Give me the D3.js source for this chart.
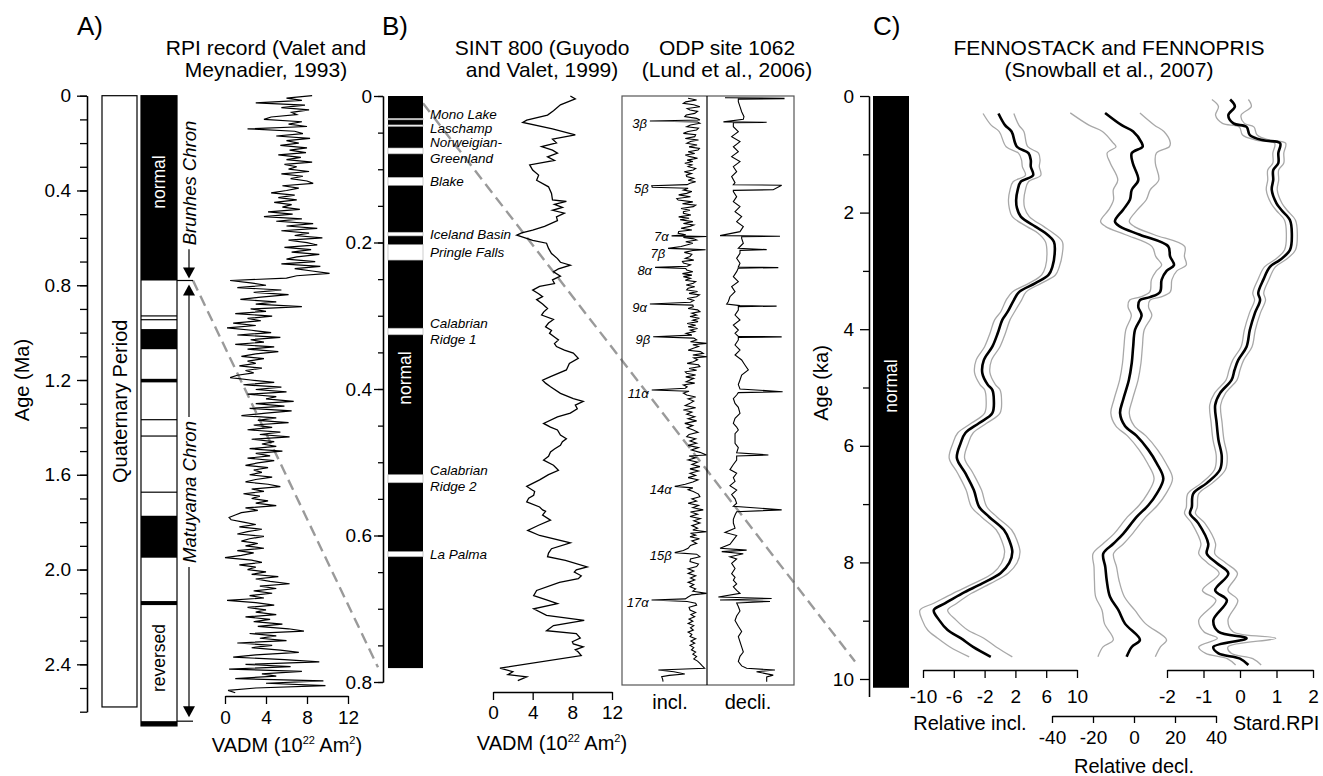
<!DOCTYPE html>
<html><head><meta charset="utf-8">
<script src="https://cdn.jsdelivr.net/npm/d3@7"></script>
<style>
body{margin:0;background:#fff;}
svg{display:block;font-family:"Liberation Sans",Arial,Helvetica,sans-serif;}
</style></head><body>
<svg id="fig" width="1323" height="776"></svg>
<script>
// ===== A) RPI record (Valet and Meynadier, 1993): VADM sampled every 0.01 Ma =====
const rpiStartMa = 0, rpiStepMa = 0.01;
const rpiVadm = [
 8.5,6.0,7.5,3.0,7.8,5.5,8.2,6.5,7.0,4.5,
 3.8,7.5,6.2,8.0,2.2,6.8,7.6,5.0,8.3,6.0,
 7.2,5.4,8.0,6.3,7.9,5.2,7.4,6.0,8.5,5.8,
 7.0,6.2,8.2,5.5,7.6,6.4,8.0,8.6,5.6,7.2,
 6.0,4.5,6.8,5.2,7.0,4.8,6.5,5.6,7.3,4.2,
 6.6,3.8,7.5,5.0,8.6,6.0,9.0,5.5,8.2,6.8,
 9.5,6.2,8.0,9.0,5.8,8.4,6.5,9.2,7.0,6.0,
 8.8,5.5,9.3,6.8,8.5,10.2,7.0,6.0,0.5,2.5,
 4.0,1.2,5.5,2.8,6.2,3.5,1.5,5.0,3.0,7.5,
 2.5,4.0,1.0,4.6,2.2,3.5,0.8,3.0,0.2,2.6,
 4.5,1.2,5.4,2.5,3.8,1.0,4.8,2.2,5.2,3.0,
 1.6,3.8,2.2,3.0,1.4,3.6,2.0,2.8,1.2,0.5,
 2.5,4.8,1.8,5.5,3.0,6.0,2.2,5.0,4.0,6.7,
 3.0,5.8,2.4,6.5,4.0,1.6,5.0,3.2,6.2,2.8,
 4.6,2.2,5.4,3.4,6.3,2.6,4.8,3.6,5.0,2.4,
 5.6,3.0,4.4,2.2,4.8,3.2,2.0,4.2,2.8,3.6,
 2.4,4.6,3.0,2.0,4.2,5.4,2.6,3.8,1.8,3.4,
 2.6,4.2,3.0,5.0,2.0,3.2,1.6,1.0,0.4,0.6,
 1.8,3.0,1.4,3.6,2.2,1.2,3.8,2.4,1.6,3.2,
 2.0,3.8,1.2,2.8,1.6,0.0,2.6,3.6,1.4,3.0,
 2.2,4.0,2.6,5.2,3.0,4.4,6.3,3.4,5.0,2.8,
 4.6,2.4,3.8,0.2,3.0,4.8,2.2,4.0,3.0,5.0,
 2.0,4.4,2.8,5.6,3.2,6.2,7.7,2.4,5.0,3.4,
 6.0,1.2,4.6,2.6,5.4,7.2,3.0,0.8,5.8,9.2,
 2.0,6.4,0.4,7.5,3.6,5.0,1.0,9.6,4.0,9.8,
 3.0,0.3,1.0
];
// normal-polarity intervals of the geomagnetic time scale (Ma)
const normalA = [[0,0.78],[0.927,0.932],[0.943,0.948],[0.985,1.07],[1.195,1.21],
  [1.365,1.37],[1.434,1.439],[1.671,1.676],[1.773,1.95],[2.133,2.15],[2.64,2.66]];
const columnA = [0, 2.66];
const quaternaryA = [0, 2.58];
const chrons = [{name:"Brunhes Chron", from:0, to:0.78}, {name:"Matuyama Chron", from:0.78, to:2.64}];

// ===== B) SINT 800 (Guyodo and Valet, 1999): [age Ma, VADM] =====
const sint800 = [[0,7.8],[0.004,8.3],[0.012,6.8],[0.02,6.1],[0.026,5.5],[0.033,3.4],[0.036,3.0],[0.045,6.0],
 [0.053,8.3],[0.059,6.0],[0.064,6.4],[0.069,4.9],[0.074,6.0],[0.078,6.5],[0.083,5.5],[0.088,6.2],[0.094,3.7],
 [0.101,4.0],[0.108,4.6],[0.115,4.4],[0.124,5.6],[0.133,5.9],[0.142,6.0],[0.144,7.4],[0.148,6.2],[0.152,7.0],
 [0.156,6.0],[0.16,7.2],[0.165,6.4],[0.17,6.5],[0.178,5.2],[0.183,4.0],[0.187,2.9],[0.19,2.4],[0.197,4.0],
 [0.201,5.4],[0.208,5.6],[0.215,5.9],[0.222,6.5],[0.227,6.8],[0.231,7.8],[0.236,6.6],[0.24,6.1],[0.246,6.8],
 [0.251,6.0],[0.256,6.2],[0.26,4.7],[0.265,4.0],[0.27,4.6],[0.274,5.0],[0.278,4.4],[0.284,5.0],[0.29,5.5],
 [0.295,5.1],[0.299,4.9],[0.305,6.1],[0.31,5.6],[0.315,5.3],[0.32,5.9],[0.324,5.7],[0.33,6.3],[0.333,6.6],
 [0.338,6.2],[0.342,6.4],[0.347,7.2],[0.351,8.1],[0.358,8.6],[0.365,7.7],[0.374,7.4],[0.383,5.8],[0.388,5.0],
 [0.392,5.3],[0.397,5.8],[0.406,6.8],[0.413,8.1],[0.417,9.1],[0.422,8.3],[0.427,8.5],[0.433,7.8],[0.438,6.5],
 [0.447,5.1],[0.452,5.8],[0.456,6.5],[0.463,6.8],[0.468,7.4],[0.472,7.0],[0.477,6.8],[0.482,6.2],[0.486,5.8],
 [0.492,5.6],[0.497,5.1],[0.504,6.1],[0.511,6.6],[0.517,5.6],[0.524,4.7],[0.533,3.4],[0.54,4.2],[0.545,4.1],
 [0.549,3.6],[0.554,3.4],[0.561,4.7],[0.565,5.0],[0.567,5.3],[0.572,5.0],[0.579,5.8],[0.586,4.6],[0.593,3.5],
 [0.6,4.7],[0.61,7.8],[0.618,5.9],[0.624,5.6],[0.629,5.5],[0.634,7.3],[0.643,9.5],[0.647,8.4],[0.65,8.2],
 [0.655,8.9],[0.659,8.6],[0.664,6.7],[0.675,4.4],[0.682,4.1],[0.688,5.4],[0.693,6.5],[0.7,4.1],[0.709,5.4],
 [0.716,9.2],[0.723,6.1],[0.73,5.4],[0.734,8.4],[0.74,8.8],[0.745,8.0],[0.748,8.1],[0.752,9.1],[0.756,8.3],
 [0.759,8.6],[0.764,8.9],[0.781,0.7],[0.786,2.0],[0.79,1.5],[0.793,3.4],[0.798,2.5]];
const normalB = [0, 0.781];
const excursionsB = [
 {name:["Mono Lake"], top:0.0305, base:0.0325},
 {name:["Laschamp"], top:0.0395, base:0.0415},
 {name:["Norweigian-","Greenland"], top:0.071, base:0.079},
 {name:["Blake"], top:0.111, base:0.122},
 {name:["Iceland Basin"], top:0.186, base:0.191},
 {name:["Pringle Falls"], top:0.203, base:0.224},
 {name:["Calabrian","Ridge 1"], top:0.317, base:0.326},
 {name:["Calabrian","Ridge 2"], top:0.517, base:0.528},
 {name:["La Palma"], top:0.622, base:0.629}];

// ===== ODP site 1062 (Lund et al., 2006): [age ka, inclination], [age ka, declination] =====
const odpIncl = [[3,50],[5.5,68],[8,45],[10,40],[12,62],[14.6,75],[17,48],[19.1,54],[21,70],[23.7,64],[26,46],
 [28.2,43],[30.5,68],[32.8,75],[34.1,-31],[35.5,70],[37.3,75],[39.5,55],[41.9,47],[44,72],[46.4,68],[48.5,50],
 [51,40],[53,66],[55.5,64],[58,44],[60,72],[62,55],[64.6,47],[67,69],[69.5,52],[71.5,74],[73.7,71],[76,50],
 [78.5,64],[80.5,44],[82.8,54],[85,70],[87.5,48],[89.5,60],[91.9,43],[94,58],[96.5,50],[99,66],[101,61],
 [103.5,42],[106,57],[108,46],[110,47],[112.5,62],[115,50],[117,66],[119,54],[121,48],[122.4,-27],[124.5,-26],
 [126,50],[128.5,40],[130.5,58],[132.9,47],[135,30],[137.5,55],[140,26],[142,29],[144.5,60],[147,38],[149,66],
 [151,61],[153.5,35],[156,54],[158,40],[160,40],[162.5,56],[165,30],[167,52],[169,33],[171.5,60],[174,40],
 [176,62],[178,54],[180.5,35],[183,58],[185,30],[187.5,29],[189.5,45],[191,15],[191.8,89],[193,40],[195,62],
 [196.6,68],[199,45],[201,60],[203.4,47],[205.5,35],[208,7.6],[209,55],[210,87],[211,60],[213.5,42],[216,58],
 [219,54],[221.5,44],[224,62],[226,38],[228,40],[230.5,55],[232.5,48],[234,-20],[235.5,45],[237.5,47],[240,60],
 [242.5,38],[244.5,58],[246.6,40],[249,55],[251.5,44],[253.5,66],[255.7,61],[258,46],[260.5,64],[262.5,50],
 [264.8,47],[267,70],[269.5,52],[271.5,74],[274,68],[276.5,48],[279,62],[281.5,55],[284,-31],[285.5,60],
 [287.6,61],[290,50],[292,70],[294.4,75],[296.5,58],[299,68],[301,54],[303.5,74],[306,60],[308,71],[310.5,48],
 [313,66],[315,50],[317.5,70],[319.5,55],[321.7,64],[324,46],[326.5,58],[328.6,-24],[330.5,62],[333,68],
 [335.5,55],[337.7,89],[339.5,60],[342,72],[344.5,61],[347,50],[349,76],[351.3,82],[353.5,60],[355.9,90],
 [357.5,62],[360,70],[362.7,61],[365,48],[367,72],[369.5,75],[372,52],[374.5,68],[376.5,44],[378.6,47],
 [381,66],[383.5,45],[385.5,62],[387.7,54],[390,46],[392,64],[394.5,40],[397,48],[399,44],[401.4,-27],
 [403,52],[405.5,40],[408.2,47],[411,66],[413.5,50],[416.5,62],[419.6,54],[422.5,44],[425.5,66],[428.7,40],
 [431.5,58],[434.5,47],[437.8,64],[440.5,50],[443.5,68],[446.9,43],[450,60],[453,48],[456,61],[459,71],
 [462,52],[465,47],[468,66],[471,54],[474,68],[477,50],[480,72],[483.3,57],[486.5,75],[490,89],[491.5,52],
 [494,66],[497,50],[500,70],[503,58],[506,75],[509,54],[512,72],[515,54],[518,66],[521,50],[524,71],[527,60],
 [530,44],[533,21.7],[535,60],[537.5,50],[540,61],[543.5,72],[547,75],[550,58],[553,68],[556,50],[559,72],
 [562,60],[565,82],[568,55],[571,70],[574,54],[577,76],[580,62],[583,75],[586.5,58],[590,70],[592.5,60],
 [594.8,89],[597,55],[599.5,66],[601.6,54],[604.5,74],[607.5,58],[610.7,68],[613.5,55],[617.5,50],[620.5,40],
 [623.4,21.7],[625.5,68],[628.9,75],[632,55],[635.7,54],[639,72],[642.5,68],[645.5,50],[648.5,62],[651.7,50],
 [655,66],[658,55],[660.8,64],[664,50],[667,62],[669.9,54],[673,66],[676,60],[679,89],[681,58],[684,50],
 [686.5,44],[688,-27.4],[690,48],[692.5,66],[695,68],[698,52],[701.7,54],[705,66],[708,56],[710.8,64],
 [714,52],[717,60],[720,50],[723,62],[726,55],[729,61],[732,50],[735,58],[738,54],[741,66],[744,56],[747,64],
 [750,54],[753,62],[756,57],[759,66],[762,60],[765.4,68],[768.5,62],[771.5,70],[774.5,75],[778,80],[781.3,85],
 [783.6,-13],[786,20],[789,43],[791,10],[792.7,-6],[796,-4],[799.5,-3]];
const odpDecl = [[2.3,-45.5],[3.0,198.6],[3.6,198.6],[4.2,9.6],[7.7,9.6],[14.6,16.5],[21.4,23.4],[28.2,33],
 [31.9,30.3],[35.3,-52],[35.9,127],[36.6,-11],[41.9,-11],[48.7,9.6],[55.5,-18],[62.3,16.5],[69.2,-11],[76,9.6],
 [82.8,-18],[89.6,16.5],[96.5,-11],[103.3,2.7],[110,-18],[118.3,-4],[121.2,-11],[121.8,189],[128,154],
 [128.8,-11],[130.6,-11],[137.4,2.7],[144.3,-11],[151,16.5],[157.9,-4],[164.7,23.4],[171.6,2.7],[178.4,30.3],
 [185.2,16.5],[190.6,-66],[191.4,182],[192,23.4],[194.3,23.4],[201,30.3],[208,9.6],[209.7,127],[210.7,16.5],
 [214.8,16.5],[221.6,2.7],[228.4,16.5],[233.5,9.6],[234.3,175],[235,9.6],[239.8,2.7],[246.6,-11],[253.5,9.6],
 [260.3,-18],[267,-4],[274,-25],[280.8,-32],[284,-38.6],[286.2,16.5],[286.9,168],[287.6,9.6],[292.1,9.6],
 [299,-4],[305.8,16.5],[312.6,-11],[319.5,9.6],[324,-4],[328.2,9.6],[328.8,189],[329.6,9.6],[333,9.6],[340,-4],
 [346.8,16.5],[353.6,-4],[360.4,23.4],[367.2,37],[374,51],[381,23.4],[387.7,16.5],[394,9.6],[400,16.5],
 [403.7,193],[405,9.6],[408.2,2.7],[413,-11],[419.6,-4],[425,9.6],[433.2,16.5],[440,-4],[446.9,-11],[452,2.7],
 [456,9.6],[461,-4],[467,-4],[474,-4],[480,9.6],[487,2.7],[490,134],[491.5,2.7],[497,2.7],[503,-11],[510,-25],
 [515,2.7],[521,-11],[526,-4],[532,-25],[538,2.7],[544,-18],[550,-4],[556,2.7],[560,-11],[565,189],[567.5,2.7],
 [572,-4],[578,-11],[583,-11],[590,-4],[595.8,-45.5],[600,2.7],[606,-11],[612,-25],[617.5,-66],[620,44],
 [622,-59],[625,30],[629,-25],[632,2.7],[638,-18],[645,-4],[652,-18],[657,-4],[661,-11],[666,2.7],[670,-11],
 [675,2.7],[679,16.5],[684,-73],[686,147.5],[688,-66],[690,140.5],[692,2.7],[697,9.6],[703,16.5],[710,2.7],
 [716,-4],[724,9.6],[731,23.4],[738,9.6],[745,16.5],[752,23.4],[759,30.3],[765,16.5],[772,9.6],[778,23.4],
 [781.3,44],[783.6,161],[786,85],[790.6,154],[793,127],[799.5,127]];
const odpExcursions = [["3β",34.1],["5β",122.4],["7α",191],["7β",208],["8α",234],["9α",284],["9β",328.6],
 ["11α",401.4],["14α",533],["15β",623.4],["17α",688]];

// ===== C) FENNOSTACK and FENNOPRIS (Snowball et al., 2007) =====
const inclAge = [0.30,0.50,0.61,0.87,0.98,1.10,1.21,1.36,1.47,1.61,1.78,1.92,2.07,2.24,2.35,2.50,2.70,2.93,3.07,
 3.21,3.36,3.50,3.70,3.84,4.07,4.30,4.53,4.75,4.95,5.04,5.21,5.44,5.61,5.78,5.95,6.21,6.47,6.76,7.05,7.22,7.44,
 7.62,7.82,8.01,8.18,8.36,8.53,8.70,8.82,8.99,9.16,9.30,9.45,9.62];
const inclVal = [-0.2,0.65,1.5,2.2,3.7,4.0,4.0,4.3,2.7,2.3,2.1,2.2,2.7,4.6,5.9,7.0,7.1,6.8,6.3,
 4.6,2.5,1.8,1.0,0.3,-0.3,-1.0,-2.1,-2.3,-1.6,-1.0,-0.8,-1.0,-2.7,-4.5,-5.1,-5.6,-4.5,-3.4,-2.7,-1.4,0.5,
 1.2,1.6,1.2,0.1,-2.3,-4.9,-7.1,-8.6,-7.9,-6.8,-5.1,-3.5,-1.2];
const inclErr = [2.0,1.8,1.6,1.4,1.3,1.2,1.1,1.0,1.0,1.0,1.0,1.0,1.1,1.1,1.0,1.1,1.0,0.9,0.9,
 0.8,0.9,1.0,0.9,1.0,1.0,1.0,1.0,1.0,1.0,1.0,1.0,1.0,1.0,1.0,1.0,1.0,1.0,1.0,1.0,1.0,1.0,
 1.0,1.0,1.0,1.0,1.1,1.2,1.5,1.8,2.2,2.6,3.0,3.0,2.8];
const declAge = [0.29,0.50,0.61,0.80,0.87,0.98,1.15,1.44,1.61,1.78,1.95,2.15,2.24,2.38,2.58,2.75,2.90,3.00,3.15,
 3.36,3.45,3.50,3.62,3.76,4.01,4.30,4.58,4.87,5.21,5.44,5.66,5.83,6.07,6.30,6.56,6.82,7.02,7.22,7.51,7.68,7.85,
 8.08,8.31,8.59,8.82,9.05,9.33,9.45,9.62];
const declVal = [-14.1,-6.0,-0.4,3.7,4.2,-1.1,-0.6,2.1,-1.1,-2.0,-5.3,-9.3,-6.8,2.9,16.7,17.6,19.5,15.9,13.5,
 12.7,7.8,2.9,2.1,3.7,0.5,-0.4,-1.1,-2.5,-5.3,-6.8,-4.4,1.3,7.0,11.1,14.3,11.1,7.0,1.3,-5.3,-10.1,-15,
 -14,-13.3,-11.7,-7.6,-4.4,2.9,-1.1,-3.6];
const declErr = [17,16,15,14,13,12,11,10,9,8,7,7,7,7,8,7,6,5,5,
 5,5,5,5,5,4.5,4.5,4.5,4.5,4.5,4.5,4.5,4.5,4.5,4.5,4.5,4.5,4.5,4.5,4.5,5,5,
 5.5,6,7,8,10,13,14,14];
const rpiAgeC = [0.06,0.18,0.33,0.47,0.53,0.67,0.76,0.81,0.98,1.15,1.27,1.44,1.61,1.84,1.96,2.13,2.36,2.64,2.81,
 2.93,3.15,3.38,3.50,3.72,4.01,4.30,4.53,4.70,4.87,5.10,5.30,5.61,5.90,6.18,6.41,6.64,6.82,7.05,7.16,7.33,7.68,
 7.85,8.01,8.19,8.48,8.65,8.99,9.19,9.30,9.45,9.56,9.65,9.76];
const rpiValC = [-0.27,-0.14,-0.32,-0.18,0.18,0.27,0.64,1.10,1.05,1.05,0.91,0.91,0.87,1.00,1.14,1.37,1.42,1.37,1.10,
 0.82,0.64,0.50,0.55,0.41,0.27,0.18,-0.05,-0.15,-0.23,-0.55,-0.68,-0.64,-0.59,-0.50,-0.55,-0.91,-1.28,-1.32,-1.37,-1.14,-0.87,
 -0.91,-0.64,-0.32,-0.68,-0.36,-0.73,-0.59,0.18,-0.73,-0.59,0.00,0.23];
const rpiErrC = [0.5,0.45,0.35,0.3,0.2,0.2,0.18,0.15,0.15,0.15,0.15,0.15,0.15,0.15,0.15,0.15,0.15,0.15,0.15,
 0.15,0.15,0.15,0.15,0.15,0.15,0.15,0.15,0.15,0.15,0.15,0.15,0.15,0.15,0.15,0.15,0.15,0.15,0.15,0.15,0.18,0.2,
 0.22,0.25,0.25,0.35,0.3,0.4,0.4,0.8,0.4,0.35,0.35,0.35];
const normalC = [0, 10.15];

// tick values
const ticksAMajor = [0,0.4,0.8,1.2,1.6,2.0,2.4];
const ticksBMajor = [0,0.2,0.4,0.6,0.8];
const ticksCMajor = [0,2,4,6,8,10];
const ticksVadm = [0,4,8,12];
const ticksIncl = [-10,-6,-2,2,6,10];
const ticksDecl = [-40,-20,0,20,40];
const ticksRpi = [-2,-1,0,1,2];

// ===== layout & scales =====
const svg = d3.select("#fig");
const yA = d3.scaleLinear([0, 2.6], [95.7, 711.7]);
const xA = d3.scaleLinear([0, 12], [225, 348]);
const yB = d3.scaleLinear([0, 0.8], [96, 682]);
const xB = d3.scaleLinear([0, 12], [493, 612]);
const xInc = d3.scaleLinear([-90, 90], [622, 707]);
const xDec = d3.scaleLinear([-120, 240], [707, 794]);
const yC = d3.scaleLinear([0, 10], [96, 679]);
const xCi = d3.scaleLinear([-10, 10], [923, 1077]);
const xCd = d3.scaleLinear([-40, 40], [1052, 1216]);
const xCr = d3.scaleLinear([-2, 2], [1167, 1313]);
const rng = (a, b, s) => d3.range(Math.round((b - a) / s) + 1).map(i => +(a + i * s).toFixed(3));
const TITLE = 21;

function styleAxis(g, size) {
  g.attr("font-family", null).attr("font-size", size);
  g.selectAll("line,path").attr("stroke", "#000").attr("stroke-width", 1.3);
  g.selectAll("text").attr("fill", "#000");
}
function yAxis(scale, x, major, minor, majLen, minLen, pad, fmt) {
  svg.append("g").attr("transform", `translate(${x},0)`)
    .call(d3.axisLeft(scale).tickValues(minor).tickSize(minLen).tickSizeOuter(0).tickFormat(""))
    .call(g => styleAxis(g, 19));
  svg.append("g").attr("transform", `translate(${x},0)`)
    .call(d3.axisLeft(scale).tickValues(major).tickSize(majLen).tickPadding(pad).tickSizeOuter(0).tickFormat(fmt))
    .call(g => styleAxis(g, 19));
}
function xAxis(scale, y, ticks, len, pad) {
  svg.append("g").attr("transform", `translate(0,${y})`)
    .call(d3.axisBottom(scale).tickValues(ticks).tickSize(len).tickPadding(pad).tickSizeOuter(0).tickFormat(d => String(d)))
    .call(g => styleAxis(g, 19));
}
function text(x, y, str, size, opts = {}) {
  const t = svg.append("text").attr("x", x).attr("y", y).attr("font-size", size)
    .attr("text-anchor", opts.anchor || "middle").attr("fill", opts.fill || "#000").text(str);
  if (opts.italic) t.attr("font-style", "italic");
  return t;
}
function vtext(x, y, str, size, opts = {}) {
  const t = svg.append("text").attr("transform", `translate(${x},${y}) rotate(-90)`)
    .attr("font-size", size).attr("text-anchor", "middle").attr("dominant-baseline", "central")
    .attr("fill", opts.fill || "#000").text(str);
  if (opts.italic) t.attr("font-style", "italic");
  return t;
}
function vadmLabel(x, y) {
  const t = svg.append("text").attr("x", x).attr("y", y).attr("font-size", 20).attr("text-anchor", "middle");
  t.append("tspan").text("VADM (10");
  t.append("tspan").attr("dy", -8).attr("font-size", 11).text("22");
  t.append("tspan").attr("dy", 8).text(" Am");
  t.append("tspan").attr("dy", -8).attr("font-size", 11).text("2");
  t.append("tspan").attr("dy", 8).text(")");
}
const fmtAge = d => d === 0 ? "0" : d3.format(".1f")(d);

// ----- connector lines between panels -----
const connectors = [
  {x1: 193, y1: yA(0.78), x2: 378, y2: yB(0.78)},
  {x1: 423, y1: yB(0.01), x2: 855, y2: yC(9.7)}];
svg.selectAll("line.conn").data(connectors).join("line").attr("class", "conn")
  .attr("x1", d => d.x1).attr("y1", d => d.y1).attr("x2", d => d.x2).attr("y2", d => d.y2)
  .attr("stroke", "#9a9a9a").attr("stroke-width", 2.4).attr("stroke-dasharray", "11,6");

// ===== Panel A =====
text(77, 35, "A)", 26, {anchor: "start"});
text(266, 55, "RPI record (Valet and", TITLE);
text(266, 77, "Meynadier, 1993)", TITLE);
yAxis(yA, 87, ticksAMajor, rng(0, 2.6, 0.1), 10, 7, 6, fmtAge);
vtext(22, 380, "Age (Ma)", 20);

svg.append("rect").attr("x", 102).attr("width", 35).attr("y", yA(quaternaryA[0])).attr("height", yA(quaternaryA[1]) - yA(quaternaryA[0]))
  .attr("fill", "#fff").attr("stroke", "#000").attr("stroke-width", 1.2);
vtext(120, (yA(quaternaryA[0]) + yA(quaternaryA[1])) / 2, "Quaternary Period", 20);

svg.append("rect").attr("x", 141).attr("width", 36).attr("y", yA(columnA[0])).attr("height", yA(columnA[1]) - yA(columnA[0]))
  .attr("fill", "#fff").attr("stroke", "#000").attr("stroke-width", 1.2);
svg.selectAll("rect.nA").data(normalA).join("rect").attr("class", "nA")
  .attr("x", 141).attr("width", 36).attr("y", d => yA(d[0])).attr("height", d => Math.max(1.1, yA(d[1]) - yA(d[0])))
  .attr("fill", "#000");
vtext(159, 182, "normal", 17.5, {fill: "#fff"});
vtext(159, 658, "reversed", 17.5);

// chron brackets
const cx = 189;
[0.78, 2.64].forEach(a => svg.append("line").attr("x1", 177).attr("x2", 193).attr("y1", yA(a)).attr("y2", yA(a))
  .attr("stroke", "#000").attr("stroke-width", 1.2));
function arrowHead(x, tipY, dir) {
  svg.append("path").attr("d", `M${x},${tipY} L${x - 6},${tipY - dir * 11} L${x + 6},${tipY - dir * 11} Z`).attr("fill", "#000");
}
function vline(x, y1, y2) {
  svg.append("line").attr("x1", x).attr("x2", x).attr("y1", y1).attr("y2", y2).attr("stroke", "#000").attr("stroke-width", 1.2);
}
const brT = vtext(cx, 183, chrons[0].name, 18.5, {italic: true});
const brL = brT.node().getComputedTextLength();
vline(cx, 183 + brL / 2 + 4, yA(0.78) - 12);
arrowHead(cx, yA(0.78) - 2, 1);
const maT = vtext(cx, 492, chrons[1].name, 18.5, {italic: true});
const maL = maT.node().getComputedTextLength();
arrowHead(cx, yA(0.78) + 4, -1);
vline(cx, yA(0.78) + 14, 492 - maL / 2 - 4);
vline(cx, 492 + maL / 2 + 4, yA(2.64) - 14);
arrowHead(cx, yA(2.64) - 4, 1);

const rpiSeries = rpiVadm.map((v, i) => [rpiStartMa + i * rpiStepMa, v]);
svg.append("path").datum(rpiSeries).attr("fill", "none").attr("stroke", "#000").attr("stroke-width", 1.2)
  .attr("stroke-linejoin", "miter")
  .attr("d", d3.line().x(d => xA(d[1])).y(d => yA(d[0])));
xAxis(xA, 696, ticksVadm, 8, 7);
vadmLabel(287, 752);

// ===== Panel B =====
text(382, 35, "B)", 26, {anchor: "start"});
text(542, 55, "SINT 800 (Guyodo", TITLE);
text(542, 77, "and Valet, 1999)", TITLE);
yAxis(yB, 383, ticksBMajor, rng(0, 0.8, 0.05), 9, 5, 2, fmtAge);
svg.append("rect").attr("x", 388).attr("width", 35).attr("y", yB(normalB[0])).attr("height", yB(normalB[1]) - yB(normalB[0])).attr("fill", "#000");
svg.selectAll("rect.exc").data(excursionsB).join("rect").attr("class", "exc")
  .attr("x", 388).attr("width", 35).attr("y", d => yB(d.top)).attr("height", d => yB(d.base) - yB(d.top))
  .attr("fill", "#fff").attr("stroke", "#aaa").attr("stroke-width", 0.6);
vtext(405, 378, "normal", 17.5, {fill: "#fff"});
const labelNudge = {"Mono Lake": -5, "Laschamp": 3};
excursionsB.forEach(e => {
  const mid = yB((e.top + e.base) / 2) + (labelNudge[e.name[0]] || 0);
  e.name.forEach((s, i) => {
    const yy = mid + (e.name.length === 1 ? 0 : (i === 0 ? -8 : 8));
    text(430, yy, s, 13.5, {anchor: "start", italic: true}).attr("dominant-baseline", "central");
  });
});
svg.append("path").datum(sint800).attr("fill", "none").attr("stroke", "#000").attr("stroke-width", 1.3)
  .attr("d", d3.line().x(d => xB(d[1])).y(d => yB(d[0])));
xAxis(xB, 692, ticksVadm, 8, 6);
vadmLabel(552, 750);

// ODP site 1062 frame
text(727, 55, "ODP site 1062", TITLE);
text(727, 77, "(Lund et al., 2006)", TITLE);
svg.append("rect").attr("x", 622).attr("y", yB(0)).attr("width", 172).attr("height", 589)
  .attr("fill", "none").attr("stroke", "#555").attr("stroke-width", 1.2);
svg.append("line").attr("x1", 707).attr("x2", 707).attr("y1", yB(0)).attr("y2", yB(0) + 589).attr("stroke", "#000").attr("stroke-width", 1.2);
svg.append("path").datum(odpIncl).attr("fill", "none").attr("stroke", "#000").attr("stroke-width", 1.1)
  .attr("d", d3.line().x(d => xInc(Math.min(90, d[1]))).y(d => yB(d[0] / 1000)));
svg.append("path").datum(odpDecl).attr("fill", "none").attr("stroke", "#000").attr("stroke-width", 1.1)
  .attr("d", d3.line().x(d => xDec(d[1])).y(d => yB(d[0] / 1000)));
const odpNudge = {"7α": -2, "7β": 2};
odpExcursions.forEach(([lab, age]) => {
  const tip = odpIncl.reduce((a, b) => Math.abs(b[0] - age) < Math.abs(a[0] - age) ? b : a);
  text(xInc(tip[1]) - 3, yB(age / 1000) + 3 + (odpNudge[lab] || 0), lab, 13, {anchor: "end", italic: true})
    .attr("dominant-baseline", "central");
});
text(670, 709, "incl.", 20);
text(748, 709, "decli.", 20);

// ===== Panel C =====
text(873, 35, "C)", 26, {anchor: "start"});
text(1109, 55, "FENNOSTACK and FENNOPRIS", TITLE);
text(1109, 77, "(Snowball et al., 2007)", TITLE);
const yCaxis = yC.copy().domain([0, 10.3]).range([yC(0), yC(10.3)]);
yAxis(yCaxis, 869, ticksCMajor, [1, 3, 5, 7, 9], 9, 6, 6, d => String(d));
vtext(821, 383, "Age (ka)", 20);
svg.append("rect").attr("x", 873).attr("width", 36).attr("y", yC(normalC[0])).attr("height", yC(normalC[1]) - yC(normalC[0])).attr("fill", "#000");
vtext(891, 386, "normal", 17.5, {fill: "#fff"});

function envelopeCurve(ages, vals, errs, xs) {
  const pts = ages.map((a, i) => ({a, v: vals[i], e: errs[i]}));
  const ln = acc => d3.line().curve(d3.curveCatmullRom.alpha(0.5)).x(d => xs(acc(d))).y(d => yC(d.a));
  [d => d.v - d.e, d => d.v + d.e].forEach(acc =>
    svg.append("path").datum(pts).attr("fill", "none").attr("stroke", "#a8a8a8").attr("stroke-width", 1.3).attr("d", ln(acc)));
  svg.append("path").datum(pts).attr("fill", "none").attr("stroke", "#000").attr("stroke-width", 2.6)
    .attr("stroke-linejoin", "round").attr("d", ln(d => d.v));
}
envelopeCurve(inclAge, inclVal, inclErr, xCi);
envelopeCurve(declAge, declVal, declErr, xCd);
envelopeCurve(rpiAgeC, rpiValC, rpiErrC, xCr);

xAxis(xCi, 670, ticksIncl, 8, 12);
xAxis(xCr, 670, ticksRpi, 8, 12);
xAxis(xCd, 716, ticksDecl, 7, 8);
text(970, 730, "Relative incl.", 20);
text(1276, 730, "Stard.RPI", 20);
text(1134, 773, "Relative decl.", 20);
</script>
</body></html>
